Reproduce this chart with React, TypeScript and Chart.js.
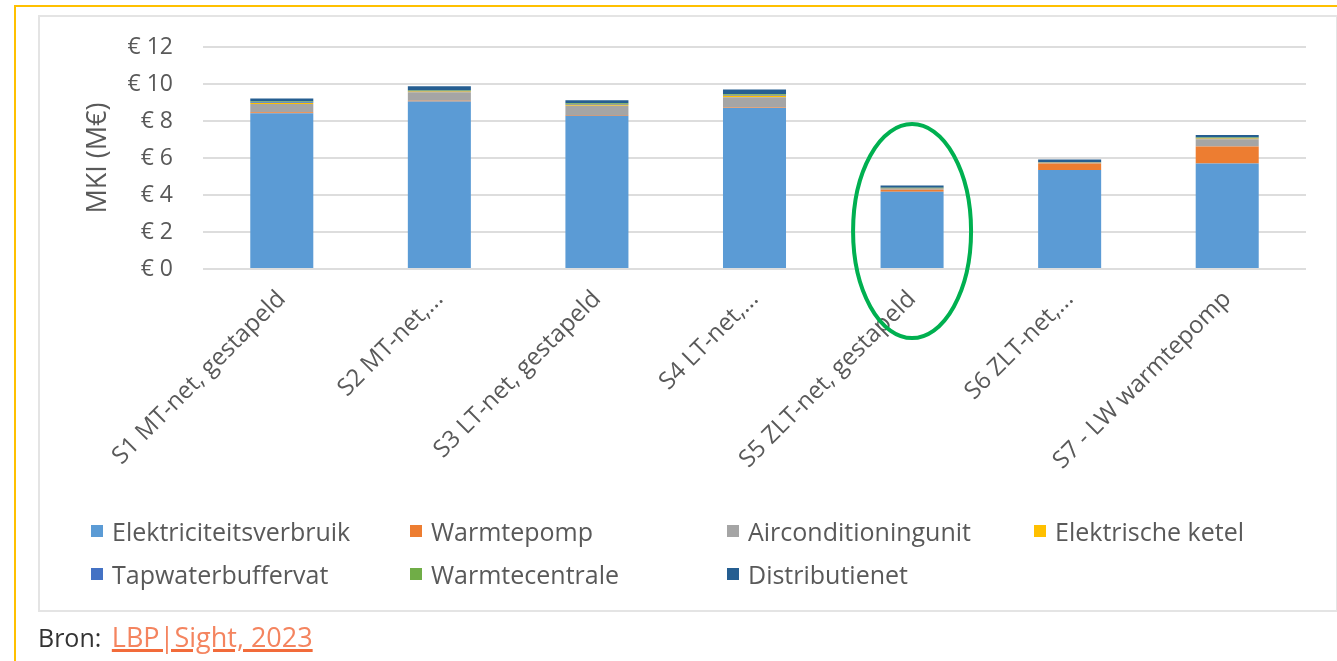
import React, { useEffect, useRef } from "react";
import { Chart, registerables } from "chart.js";

Chart.register(...registerables);

const categories = [
  "S1 MT-net, gestapeld",
  "S2 MT-net,...",
  "S3 LT-net, gestapeld",
  "S4 LT-net,...",
  "S5 ZLT-net, gestapeld",
  "S6 ZLT-net,...",
  "S7 - LW warmtepomp",
];

const elektriciteitsverbruik = [8.42, 9.05, 8.28, 8.7, 4.18, 5.35, 5.7];
const warmtepomp = [0.05, 0.05, 0.05, 0.03, 0.1, 0.35, 0.92];
const airconditioningunit = [0.45, 0.45, 0.5, 0.55, 0.05, 0.03, 0.4];
const elektrischeKetel = [0.05, 0.05, 0.05, 0.08, 0.01, 0.01, 0.03];
const tapwaterbuffervat = [0.04, 0.04, 0.04, 0.05, 0.03, 0.03, 0.03];
const warmtecentrale = [0.04, 0.04, 0.04, 0.03, 0.02, 0.02, 0.03];
const distributienet = [0.17, 0.2, 0.16, 0.26, 0.12, 0.13, 0.14];

const seriesNames = [
  "Elektriciteitsverbruik",
  "Warmtepomp",
  "Airconditioningunit",
  "Elektrische ketel",
  "Tapwaterbuffervat",
  "Warmtecentrale",
  "Distributienet",
];
const seriesColors = ["#5B9BD5", "#ED7D31", "#A5A5A5", "#FFC000", "#4472C4", "#70AD47", "#255E91"];
const seriesData = [
  elektriciteitsverbruik,
  warmtepomp,
  airconditioningunit,
  elektrischeKetel,
  tapwaterbuffervat,
  warmtecentrale,
  distributienet,
];

const yTicks = [0, 2, 4, 6, 8, 10, 12];
const highlightIndex = 4;

const FONT = "'Open Sans', 'Noto Sans', sans-serif";
const TEXT = "#595959";

const ellipsePlugin = {
  id: "highlightEllipse",
  afterDraw(chart: any) {
    const x = chart.scales.x.getPixelForValue(highlightIndex);
    const y = chart.scales.y.getPixelForValue(2.05);
    const ctx = chart.ctx;
    ctx.save();
    ctx.beginPath();
    ctx.ellipse(x, y, 59, 107, 0, 0, Math.PI * 2);
    ctx.lineWidth = 4;
    ctx.strokeStyle = "#00B050";
    ctx.stroke();
    ctx.restore();
  },
};

function ChartView() {
  const ref = useRef<HTMLCanvasElement>(null);
  useEffect(() => {
    if (!ref.current) return;
    const chart = new Chart(ref.current, {
      type: "bar",
      data: {
        labels: categories,
        datasets: seriesNames.map((name, i) => ({
          label: name,
          data: seriesData[i],
          backgroundColor: seriesColors[i],
          borderWidth: 0,
          categoryPercentage: 1,
          barPercentage: 0.4,
        })),
      },
      options: {
        animation: false,
        responsive: false,
        maintainAspectRatio: false,
        layout: { padding: { left: 76, top: 47, right: 31, bottom: 192 } },
        plugins: { legend: { display: false }, tooltip: { enabled: false } },
        scales: {
          x: {
            stacked: true,
            grid: { display: false },
            border: { display: false },
            ticks: {
              minRotation: 45,
              maxRotation: 45,
              autoSkip: false,
              color: TEXT,
              padding: 8,
              font: { family: FONT, size: 24 },
            },
            afterFit: (s: any) => {
              s.height = 200;
            },
          },
          y: {
            stacked: true,
            min: 0,
            max: 12,
            afterBuildTicks: (s: any) => {
              s.ticks = yTicks.map((v) => ({ value: v }));
            },
            grid: { color: "#DDDDDD", lineWidth: 2, drawTicks: false },
            border: { display: false },
            ticks: {
              color: TEXT,
              padding: 30,
              font: { family: FONT, size: 23 },
              callback: (v: any) => "€ " + v,
            },
            title: {
              display: true,
              text: "MKI (M€)",
              color: TEXT,
              font: { family: FONT, size: 27 },
              padding: { top: 6, bottom: 4 },
            },
            afterFit: (s: any) => {
              s.width = 127;
            },
          },
        },
      },
      plugins: [ellipsePlugin],
    });
    return () => chart.destroy();
  }, []);
  return (
    <canvas
      ref={ref}
      width={1337}
      height={661}
      style={{ position: "absolute", left: 0, top: 0, width: 1337, height: 661 }}
    />
  );
}

const legendTextX = [112, 431, 748, 1055];
const legendRows = [531, 574];

export default function App() {
  return (
    <div
      style={{
        position: "fixed",
        left: 0,
        top: 0,
        width: 1337,
        height: 661,
        background: "#FFFFFF",
        overflow: "hidden",
        fontFamily: FONT,
      }}
    >
      <div
        style={{
          position: "absolute",
          left: 14,
          top: 5,
          width: 1400,
          height: 700,
          borderTop: "2px solid #FFC000",
          borderLeft: "2px solid #FFC000",
        }}
      />
      <div
        style={{
          position: "absolute",
          left: 38,
          top: 15,
          width: 1296,
          height: 593,
          border: "2px solid #E4E4E4",
        }}
      />
      <ChartView />
      {seriesNames.map((name, i) => {
        const col = i % 4;
        const row = Math.floor(i / 4);
        return (
          <div
            key={name}
            style={{
              position: "absolute",
              left: legendTextX[col] - 21,
              top: legendRows[row] - 18,
              height: 36,
              display: "flex",
              alignItems: "center",
              whiteSpace: "nowrap",
              fontSize: 25,
              color: TEXT,
            }}
          >
            <span
              style={{
                display: "inline-block",
                width: 12,
                height: 12,
                background: seriesColors[i],
                marginRight: 9,
              }}
            />
            {name}
          </div>
        );
      })}
      <div
        style={{
          position: "absolute",
          left: 38,
          top: 618,
          fontSize: 25,
          color: "#333333",
          whiteSpace: "nowrap",
        }}
      >
        Bron:{" "}
        <span
          style={{
            color: "#F4845F",
            fontSize: 27,
            marginLeft: 4,
            textDecoration: "underline",
            textDecorationColor: "#F26B3A",
            textDecorationThickness: 3,
          }}
        >
          LBP|Sight, 2023
        </span>
      </div>
    </div>
  );
}
